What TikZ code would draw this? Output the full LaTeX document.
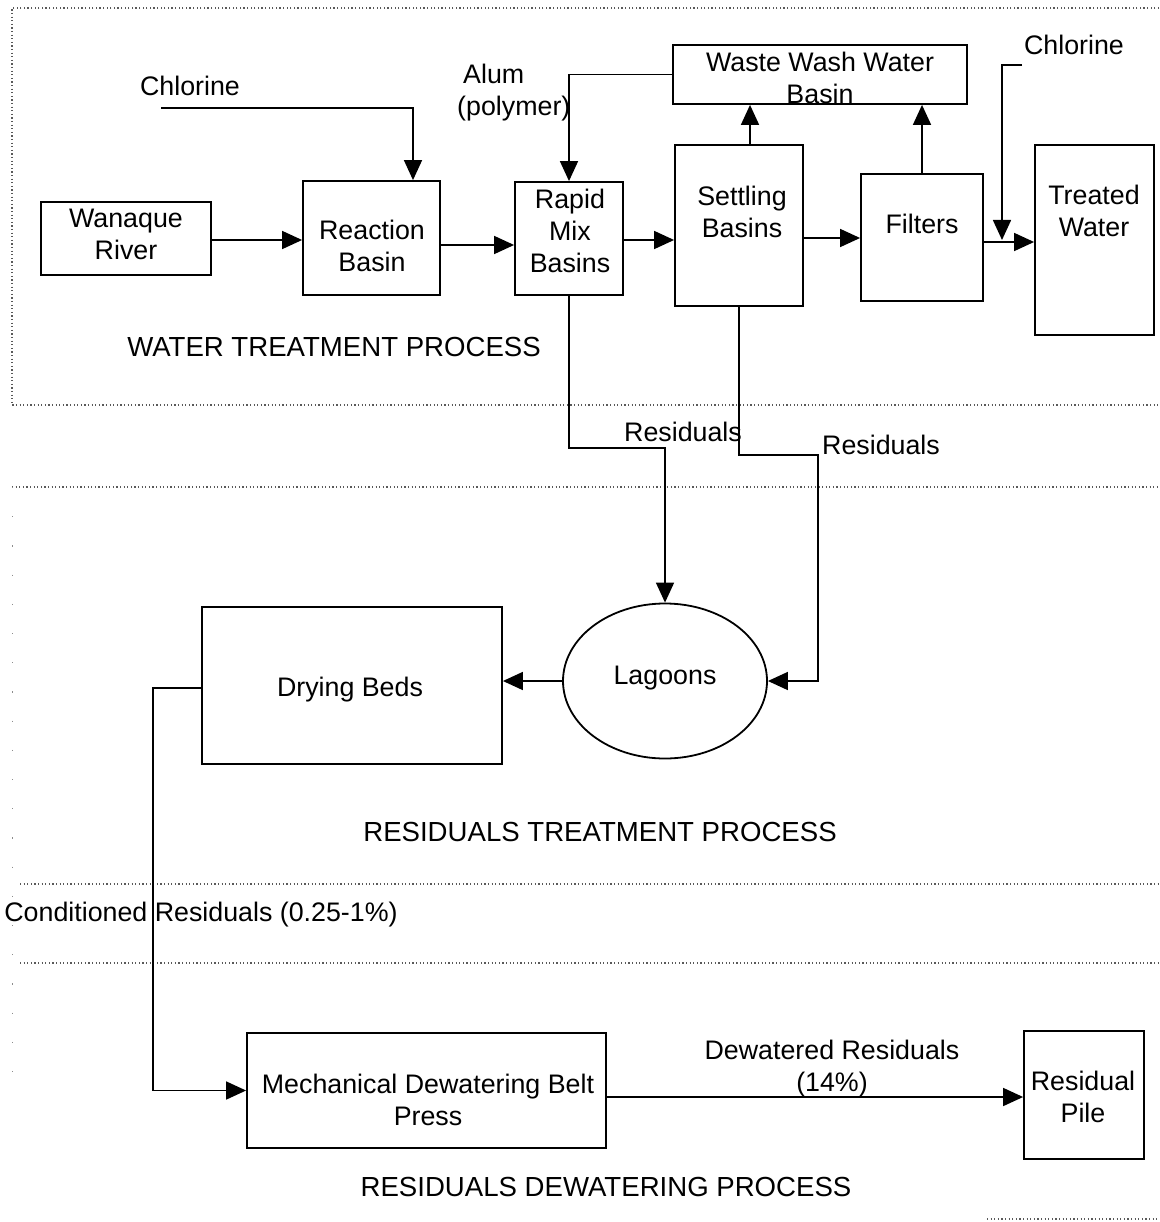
\documentclass[tikz,border=0pt]{standalone}
\usepackage{fontspec}
\setmainfont{Liberation Sans}
\usetikzlibrary{arrows.meta,shapes.geometric,fit}
\begin{document}
\begin{tikzpicture}[x=1pt,y=-1pt,
  box/.style={draw, line width=1.8pt, inner sep=0pt},
  txt/.style={align=center, inner sep=0pt, font=\fontsize{26.8}{32}\selectfont},
  ttl/.style={align=center, inner sep=0pt, font=\fontsize{27.6}{32}\selectfont},
  arr/.style={line width=1.6pt, -{Triangle[length=20pt,width=18pt]}},
  ln/.style={line width=1.6pt},
  dots/.style={line width=1.1pt, black!65, dash pattern=on 1.2pt off 2.4pt},
  faint/.style={line width=1pt, black!45, dash pattern=on 1.2pt off 28pt}]
\useasboundingbox (0,0) rectangle (1159,1222);

% dotted section frames
\draw[dots] (1159,8) -- (12,8) -- (12,405) -- (1159,405);
\draw[dots] (12,487) -- (1159,487);
\draw[dots] (20,884) -- (1159,884);
\draw[dots] (20,963) -- (1159,963);
\draw[dots] (987,1219) -- (1159,1219);
\draw[faint] (12,487) -- (12,1100);

% boxes
\node[box, fit={(41,202) (211,275)}] (wr) {};
\node[box, fit={(303,181) (440,295)}] (rb) {};
\node[box, fit={(515,182) (623,295)}] (rm) {};
\node[box, fit={(675,145) (803,306)}] (sb) {};
\node[box, fit={(673,45) (967,104)}] (ww) {};
\node[box, fit={(861,174) (983,301)}] (fi) {};
\node[box, fit={(1035,145) (1154,335)}] (tw) {};
\node[draw, ellipse, line width=1.8pt, minimum width=204pt, minimum height=155pt, inner sep=0pt] (lg) at (665,681) {};
\node[box, fit={(202,607) (502,764)}] (db) {};
\node[box, fit={(247,1033) (606,1148)}] (mb) {};
\node[box, fit={(1024,1031) (1144,1159)}] (rp) {};

% texts
\node[txt] (twr) at (126,234) {Wanaque\\River};
\node[txt] (trb) at (372,246) {Reaction\\Basin};
\node[txt] (trm) at (570,231) {Rapid\\Mix\\Basins};
\node[txt] (tsb) at (742,212) {Settling\\Basins};
\node[txt] (tww) at (820,78) {Waste Wash Water\\Basin};
\node[txt] (tfi) at (922,224) {Filters};
\node[txt] (ttw) at (1094,211) {Treated\\Water};
\node[txt] (tcl1) at (190,86) {Chlorine};
\node[txt] (tcl2) at (1074,45) {Chlorine};
\node[txt, align=left, anchor=west] (tal) at (457,93) {\hspace*{6pt}Alum\\(polymer)};
\node[ttl] (twt) at (334,347) {WATER TREATMENT PROCESS};
\node[txt] (tre1) at (683,432) {Residuals};
\node[txt] (tre2) at (881,445) {Residuals};
\node[txt] (tlg) at (665,678) {Lagoons};
\node[txt] (tdb) at (350,690) {Drying Beds};
\node[ttl] (trt) at (600,832) {RESIDUALS TREATMENT PROCESS};
\node[txt] (tcr) at (201,915) {Conditioned Residuals (0.25-1\%)};
\node[txt] (tmb) at (428,1100) {Mechanical Dewatering Belt\\Press};
\node[txt] (tdr) at (832,1069) {Dewatered Residuals\\(14\%)};
\node[txt] (trp) at (1083,1097) {Residual\\Pile};
\node[ttl] (trd) at (606,1187) {RESIDUALS DEWATERING PROCESS};

% free ends
\coordinate (c1) at (161,108);
\coordinate (c2) at (1022,65);
\coordinate (j2) at (1002,240);

% connectors
\draw[arr] (wr.east |- 0,240) -- (rb.west |- 0,240);
\draw[arr] (rb.east |- 0,245) -- (rm.west |- 0,245);
\draw[arr] (rm.east |- 0,240) -- (sb.west |- 0,240);
\draw[arr] (sb.east |- 0,238) -- (fi.west |- 0,238);
\draw[arr] (fi.east |- 0,242) -- (tw.west |- 0,242);
\draw[arr] (c1) -| (rb.north -| 413,0);
\draw[arr] (c2) -| (j2);
\draw[arr] (ww.west) -| (rm.north);
\draw[arr] (sb.north -| 750,0) -- (ww.south -| 750,0);
\draw[arr] (fi.north) -- (fi.north |- ww.south);
\draw[arr] (rm.south) |- (lg.north |- 0,448) -- (lg.north);
\draw[arr] (sb.south) |- (818,455) |- (lg.east);
\draw[arr] (lg.west) -- (lg.west -| db.east);
\draw[arr] (db.west |- 0,688) -- (153,688) |- (mb.west);
\draw[arr] (mb.east |- 0,1097) -- (rp.west |- 0,1097);
\end{tikzpicture}
\end{document}
